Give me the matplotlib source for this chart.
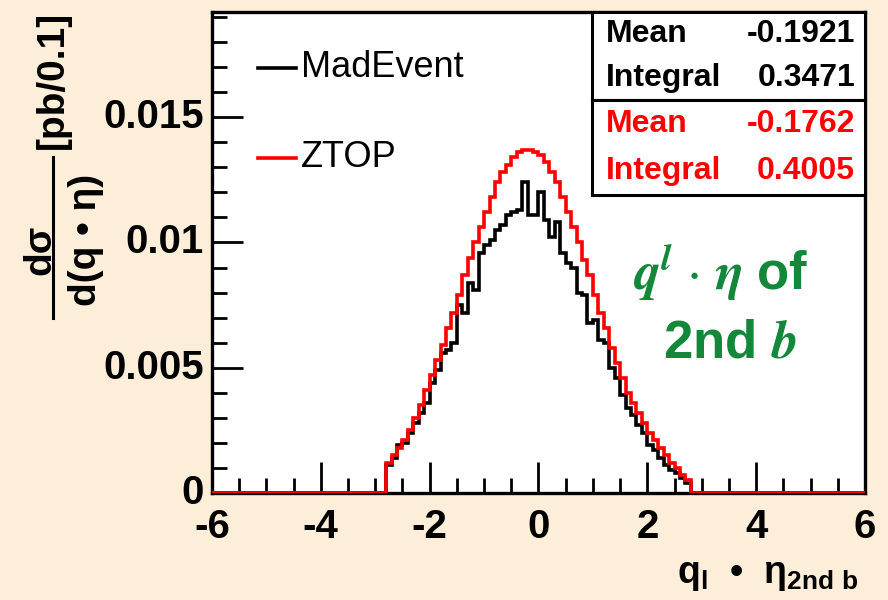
import numpy as np
import matplotlib
matplotlib.use('Agg')
import matplotlib.pyplot as plt
from matplotlib.patches import Rectangle
from matplotlib.lines import Line2D
from matplotlib.ticker import MultipleLocator, FixedLocator, FixedFormatter
import matplotlib.transforms as mtransforms

plt.rcParams['mathtext.bf'] = 'Liberation Sans:bold'
plt.rcParams['mathtext.rm'] = 'Liberation Sans:bold'
plt.rcParams['mathtext.it'] = 'Liberation Sans:bold'

# ---------------- data ----------------
bin_width = 0.1
x_min, x_max = -6.0, 6.0
first_filled_edge = -2.8   # left edge of first non-empty bin

# bin contents from -2.8 to 2.8 (56 bins of 0.1)
ztop = [0.0012, 0.0015, 0.0018, 0.0021, 0.0025, 0.0030, 0.0035, 0.0041, 0.0047, 0.0053,
        0.0059, 0.0066, 0.0072, 0.0079, 0.0087, 0.0094, 0.0100,
        0.0106, 0.0112, 0.0118, 0.0124, 0.0128, 0.0131, 0.0134, 0.0136, 0.0137, 0.0137, 0.0136,
        0.0135, 0.0132, 0.0128, 0.0124, 0.0118, 0.0112, 0.0106, 0.0100,
        0.0093, 0.0087, 0.0079, 0.0072, 0.0066, 0.0058, 0.0052, 0.0046,
        0.0040, 0.0036, 0.0032, 0.0028, 0.0024, 0.0021, 0.0018, 0.0015, 0.0012, 0.0010, 0.0007, 0.0005]

madevent = [0.0011, 0.0014, 0.0019, 0.0020, 0.0024, 0.0028, 0.0032, 0.0036, 0.0044, 0.0049,
            0.0056, 0.0057, 0.0060, 0.0075, 0.0072, 0.0084, 0.0081,
            0.0096, 0.0099, 0.0101, 0.0105, 0.0107, 0.0111, 0.0112, 0.0113, 0.0124, 0.0111, 0.0111,
            0.0120, 0.0109, 0.0102, 0.0108, 0.0096, 0.0092, 0.0090, 0.0080,
            0.0079, 0.0068, 0.0069, 0.0061, 0.0060, 0.0050, 0.0046, 0.0039,
            0.0034, 0.0031, 0.0027, 0.0024, 0.0019, 0.0017, 0.0014, 0.0011, 0.0009, 0.0008, 0.0006, 0.0004]

series_names = ["MadEvent", "ZTOP"]
stats_mad = [("Mean", "-0.1921"), ("Integral", "0.3471")]
stats_ztop = [("Mean", "-0.1762"), ("Integral", "0.4005")]

x_major = [-6, -4, -2, 0, 2, 4, 6]
x_major_labels = ["-6", "-4", "-2", "0", "2", "4", "6"]
y_major = [0, 0.005, 0.01, 0.015]
y_major_labels = ["0", "0.005", "0.01", "0.015"]
y_max = 0.0192

# ---------------- build histograms ----------------
n_bins = int(round((x_max - x_min) / bin_width))
edges = x_min + bin_width * np.arange(n_bins + 1)
start = int(round((first_filled_edge - x_min) / bin_width))

def full_hist(vals):
    h = np.zeros(n_bins)
    h[start:start + len(vals)] = vals
    return h

bg = '#fdeed9'
green = '#13873a'
font = 'Liberation Sans'

fig = plt.figure(figsize=(8.88, 6), dpi=100, facecolor=bg)
ax = fig.add_axes([0.2387, 0.1783, 0.7354, 0.8017])
ax.set_facecolor('white')

ax.stairs(full_hist(madevent), edges, color='black', lw=2.6, zorder=3)
ax.stairs(full_hist(ztop), edges, color='#ff0000', lw=2.6, zorder=4)

ax.set_xlim(x_min, x_max)
ax.set_ylim(0, y_max)

for s in ax.spines.values():
    s.set_linewidth(2.4)

ax.xaxis.set_major_locator(FixedLocator(x_major))
ax.xaxis.set_major_formatter(FixedFormatter(x_major_labels))
ax.xaxis.set_minor_locator(MultipleLocator(0.5))
ax.yaxis.set_major_locator(FixedLocator(y_major))
ax.yaxis.set_major_formatter(FixedFormatter(y_major_labels))
ax.yaxis.set_minor_locator(MultipleLocator(0.001))

ax.tick_params(which='both', direction='in', top=False, right=False, width=2)
ax.tick_params(which='major', length=22)
ax.tick_params(which='minor', length=11)
ax.tick_params(axis='x', which='major', pad=11)
ax.tick_params(axis='y', which='major', pad=6)
fig.canvas.draw()
up = mtransforms.ScaledTranslation(0, 4 / 100, fig.dpi_scale_trans)
for lab in ax.get_xticklabels() + ax.get_yticklabels():
    lab.set_fontfamily(font)
    lab.set_fontweight('bold')
    lab.set_fontsize(29)
for lab in ax.get_yticklabels():
    lab.set_transform(lab.get_transform() + up)

# ---------------- legend ----------------
leg_colors = ['black', '#ff0000']
leg_y = [0.887, 0.737]
for name, c, yy in zip(series_names, leg_colors, leg_y):
    fig.add_artist(Line2D([0.2905, 0.3333], [yy, yy], color=c, lw=2.6,
                          transform=fig.transFigure))
    fig.text(0.339, yy, name, color='black', fontsize=26, family=font,
             va='center', ha='left')

# ---------------- stats boxes ----------------
box_x0, box_x1 = 0.6667, 0.9741
boxes = [(0.8333, 0.98, stats_mad, 'black'), (0.675, 0.8333, stats_ztop, '#ff0000')]
for y0, y1, rows, c in boxes:
    fig.add_artist(Rectangle((box_x0, y0), box_x1 - box_x0, y1 - y0,
                             transform=fig.transFigure, facecolor='white',
                             edgecolor='black', lw=2.2, zorder=5))
    h = (y1 - y0) / 2
    for i, (k, v) in enumerate(rows):
        yc = y1 - h * (i + 0.5)
        fig.text(0.682, yc, k, color=c, fontsize=23, family=font, weight='bold',
                 va='center', ha='left', zorder=6)
        fig.text(0.963, yc, v, color=c, fontsize=23, family=font, weight='bold',
                 va='center', ha='right', zorder=6)

# ---------------- green annotation ----------------
fig.text(0.812, 0.547, r'$\mathbfit{q}^{\mathbfit{l}}\,\cdot\,\mathbfit{\eta}$ of', color=green,
         fontsize=38, family=font, weight='bold', ha='center', va='center',
         math_fontfamily='stix')
fig.text(0.822, 0.428, r'2nd $\mathbfit{b}$', color=green, fontsize=38,
         family=font, weight='bold', ha='center', va='center', math_fontfamily='stix')

# ---------------- y label (fraction) ----------------
fig.text(0.045, 0.583, 'dσ', rotation=90, fontsize=28, family=font, weight='bold',
         ha='center', va='center')
fig.add_artist(Line2D([0.0597, 0.0597], [0.47, 0.738], color='black', lw=2.2,
                      transform=fig.transFigure))
fig.text(0.097, 0.600, 'd(q • η)', rotation=90, fontsize=28, family=font, weight='bold',
         ha='center', va='center')
fig.text(0.060, 0.867, '[pb/0.1]', rotation=90, fontsize=28, family=font, weight='bold',
         ha='center', va='center')

# ---------------- x label ----------------
fig.text(0.966, 0.012, r'$\mathbf{q_{l}}$  •  $\mathbf{\eta_{2nd\ b}}$', fontsize=27,
         family=font, weight='bold', ha='right', va='bottom', math_fontfamily='custom')

fig.savefig('out.png', dpi=100, facecolor=bg)
